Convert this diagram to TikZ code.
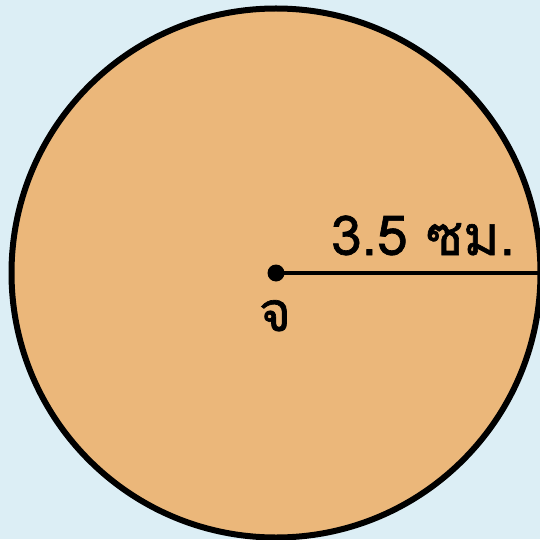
\documentclass[tikz,border=0pt]{standalone}
\usepackage{fontspec}
\newfontfamily\thaifont[Script=Thai,FakeBold=1.2]{Loma}
\definecolor{bgblue}{HTML}{DCEEF5}
\definecolor{discfill}{HTML}{EBB77A}
\begin{document}
\begin{tikzpicture}[x=1pt,y=1pt,
  lbl/.style={inner sep=0pt,font=\thaifont\fontsize{55}{60}\selectfont}]
\fill[bgblue] (0,0) rectangle (540,539);
\useasboundingbox (0,0) rectangle (540,539);
\begin{scope}
\clip (0,0) rectangle (540,539);
\coordinate (c) at (276,266);
\filldraw[fill=discfill,draw=black,line width=6pt] (c) circle[radius=264.5];
\coordinate (r) at (545,266);
\draw[line width=4.5pt] (c) -- (r);
\fill (c) circle[radius=8.5];
\node[lbl,anchor=base] (len) at (423,284) {3.5 ซม.};
\node[lbl,anchor=base] (cen) at (275,208) {จ};
\end{scope}
\end{tikzpicture}
\end{document}
